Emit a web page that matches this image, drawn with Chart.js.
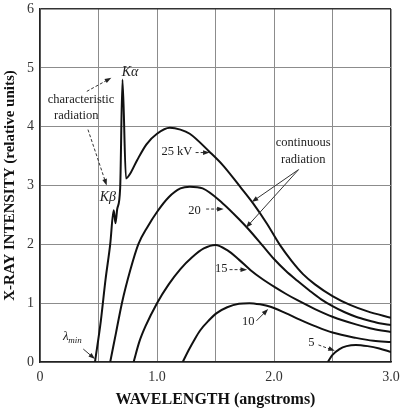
<!DOCTYPE html>
<html>
<head>
<meta charset="utf-8">
<script src="https://cdn.jsdelivr.net/npm/chart.js@4"></script>
<style>
  body { margin: 0; background: #fff; }
  canvas { display: block; }
</style>
</head>
<body>
<canvas id="spectrum" width="401" height="409"></canvas>
<script>
// wavelength (angstroms) / intensity (relative units)
const kv25Wavelength = [0.47, 0.52, 0.56, 0.60, 0.63, 0.645, 0.66, 0.685, 0.705, 0.735, 0.77, 0.83, 0.91, 1.0, 1.11, 1.2, 1.28, 1.45, 1.56, 1.71, 1.82, 1.94, 2.05, 2.15, 2.25, 2.35, 2.5, 2.65, 2.8, 3.0];
const kv25Intensity  = [0, 0.7, 1.4, 2.0, 2.58, 2.36, 2.6, 2.95, 4.8, 3.12, 3.2, 3.43, 3.7, 3.88, 3.98, 3.95, 3.88, 3.57, 3.35, 2.98, 2.7, 2.35, 1.99, 1.72, 1.49, 1.32, 1.12, 0.97, 0.86, 0.75];

const kv20Wavelength = [0.60, 0.65, 0.70, 0.77, 0.84, 0.92, 1.0, 1.1, 1.2, 1.28, 1.39, 1.56, 1.71, 1.79, 1.91, 2.0, 2.1, 2.2, 2.3, 2.4, 2.5, 2.6, 2.7, 2.8, 2.9, 3.0];
const kv20Intensity  = [0, 0.5, 1.0, 1.55, 2.0, 2.3, 2.55, 2.8, 2.95, 2.98, 2.95, 2.7, 2.41, 2.24, 1.96, 1.75, 1.55, 1.38, 1.22, 1.07, 0.95, 0.85, 0.77, 0.71, 0.66, 0.63];

const kv15Wavelength = [0.80, 0.85, 0.9, 1.0, 1.1, 1.2, 1.3, 1.4, 1.5, 1.6, 1.7, 1.8, 1.9, 2.0, 2.1, 2.2, 2.35, 2.5, 2.7, 2.85, 3.0];
const kv15Intensity  = [0, 0.35, 0.6, 1.0, 1.32, 1.58, 1.78, 1.93, 1.99, 1.9, 1.74, 1.56, 1.41, 1.28, 1.16, 1.05, 0.9, 0.77, 0.64, 0.56, 0.51];

const kv10Wavelength = [1.22, 1.27, 1.32, 1.37, 1.44, 1.51, 1.6, 1.7, 1.79, 1.88, 1.97, 2.1, 2.22, 2.35, 2.5, 2.7, 2.85, 3.0];
const kv10Intensity  = [0, 0.2, 0.38, 0.54, 0.7, 0.83, 0.93, 0.99, 1.0, 0.98, 0.94, 0.83, 0.72, 0.61, 0.5, 0.41, 0.36, 0.34];

const kv5Wavelength = [2.46, 2.5, 2.56, 2.62, 2.7, 2.8, 2.9, 3.0];
const kv5Intensity  = [0, 0.12, 0.22, 0.27, 0.29, 0.27, 0.23, 0.17];

const xTickLabels = ["0", "1.0", "2.0", "3.0"];
const yTickLabels = ["0", "1", "2", "3", "4", "5", "6"];

function toPoints(xs, ys) {
    return xs.map((x, i) => ({ x: x, y: ys[i] }));
}

function curve(label, xs, ys) {
    return {
        label: label,
        data: toPoints(xs, ys),
        borderColor: "#111",
        borderWidth: 2,
        pointRadius: 0,
        cubicInterpolationMode: "monotone",
        fill: false
    };
}

const serif = '"Liberation Serif", "DejaVu Serif", serif';

// labels and arrows drawn in data coordinates
const annotationPlugin = {
    id: "annotations",
    afterDatasetsDraw(chart) {
        const ctx = chart.ctx;
        const xs = chart.scales.x, ys = chart.scales.y;
        const px = v => xs.getPixelForValue(v);
        const py = v => ys.getPixelForValue(v);

        function text(str, x, y, font) {
            ctx.font = font;
            ctx.fillStyle = "#222";
            ctx.textAlign = "center";
            ctx.textBaseline = "middle";
            ctx.fillText(str, px(x), py(y));
        }

        function arrow(x1, y1, x2, y2, dashed) {
            const ax = px(x1), ay = py(y1), bx = px(x2), by = py(y2);
            const ang = Math.atan2(by - ay, bx - ax);
            ctx.save();
            ctx.strokeStyle = "#333";
            ctx.fillStyle = "#222";
            ctx.lineWidth = 1;
            ctx.setLineDash(dashed ? [3, 2] : []);
            ctx.beginPath();
            ctx.moveTo(ax, ay);
            ctx.lineTo(bx - 5 * Math.cos(ang), by - 5 * Math.sin(ang));
            ctx.stroke();
            ctx.setLineDash([]);
            ctx.beginPath();
            ctx.moveTo(bx, by);
            ctx.lineTo(bx - 7 * Math.cos(ang - 0.35), by - 7 * Math.sin(ang - 0.35));
            ctx.lineTo(bx - 7 * Math.cos(ang + 0.35), by - 7 * Math.sin(ang + 0.35));
            ctx.closePath();
            ctx.fill();
            ctx.restore();
        }

        const label = "12.5px " + serif;
        const italic = "italic 14px " + serif;

        text("K\u03B1", 0.77, 4.93, italic);
        arrow(0.40, 4.6, 0.61, 4.83, true);
        text("characteristic", 0.35, 4.45, label);
        text("radiation", 0.31, 4.18, label);
        arrow(0.41, 3.95, 0.57, 3.0, true);
        text("K\u03B2", 0.58, 2.8, italic);

        text("25 kV", 1.17, 3.57, label);
        arrow(1.33, 3.56, 1.45, 3.56, true);
        text("20", 1.32, 2.57, label);
        arrow(1.42, 2.6, 1.57, 2.6, true);
        text("15", 1.55, 1.59, label);
        arrow(1.62, 1.57, 1.77, 1.57, true);
        text("10", 1.78, 0.68, label);
        arrow(1.85, 0.7, 1.95, 0.9, false);
        text("5", 2.32, 0.32, label);
        arrow(2.38, 0.29, 2.52, 0.19, true);

        text("continuous", 2.25, 3.72, label);
        text("radiation", 2.25, 3.43, label);
        arrow(2.21, 3.27, 1.81, 2.72, false);
        arrow(2.21, 3.27, 1.76, 2.28, false);

        ctx.font = "italic 13px " + serif;
        ctx.fillStyle = "#222";
        ctx.textAlign = "center";
        ctx.textBaseline = "middle";
        ctx.fillText("\u03BB", px(0.22), py(0.43));
        ctx.font = "italic 9px " + serif;
        ctx.fillText("min", px(0.30), py(0.36));
        arrow(0.37, 0.22, 0.47, 0.05, false);
    }
};

new Chart(document.getElementById("spectrum"), {
    type: "line",
    data: {
        datasets: [
            curve("25 kV", kv25Wavelength, kv25Intensity),
            curve("20 kV", kv20Wavelength, kv20Intensity),
            curve("15 kV", kv15Wavelength, kv15Intensity),
            curve("10 kV", kv10Wavelength, kv10Intensity),
            curve("5 kV", kv5Wavelength, kv5Intensity)
        ]
    },
    options: {
        responsive: false,
        animation: false,
        layout: { padding: { top: 9, right: 10, left: 0, bottom: 0 } },
        plugins: {
            legend: { display: false },
            tooltip: { enabled: false }
        },
        scales: {
            x: {
                type: "linear",
                min: 0,
                max: 3,
                afterFit: s => { s.height = 47; s.paddingLeft = 0; s.paddingRight = 0; },
                border: { color: "#222", width: 1.5 },
                grid: {
                    drawTicks: false,
                    color: c => c.tick && c.tick.value === 3 ? "#333" : "#8c8c8c",
                    lineWidth: c => c.tick && c.tick.value === 3 ? 1.5 : 1
                },
                ticks: {
                    stepSize: 0.5,
                    autoSkip: false,
                    maxRotation: 0,
                    padding: 7,
                    color: "#333",
                    font: { family: serif, size: 14 },
                    callback: v => (v % 1 === 0 ? xTickLabels[v] : "")
                },
                title: {
                    display: true,
                    text: "WAVELENGTH (angstroms)",
                    color: "#111",
                    font: { family: serif, size: 16, weight: "bold" },
                    padding: { top: 0, bottom: 0 }
                }
            },
            y: {
                min: 0,
                max: 6,
                afterFit: s => { s.width = 40; s.paddingTop = 0; s.paddingBottom = 0; },
                border: { color: "#222", width: 1.5 },
                grid: {
                    drawTicks: false,
                    color: c => c.tick && c.tick.value === 6 ? "#333" : "#8c8c8c",
                    lineWidth: c => c.tick && c.tick.value === 6 ? 1.5 : 1
                },
                ticks: {
                    stepSize: 1,
                    padding: 6,
                    color: "#333",
                    font: { family: serif, size: 14 },
                    callback: v => yTickLabels[v]
                },
                title: {
                    display: true,
                    text: "X-RAY INTENSITY (relative units)",
                    color: "#111",
                    font: { family: serif, size: 15, weight: "bold" },
                    padding: { top: 1, bottom: 0 }
                }
            }
        }
    },
    plugins: [annotationPlugin]
});
</script>
</body>
</html>
